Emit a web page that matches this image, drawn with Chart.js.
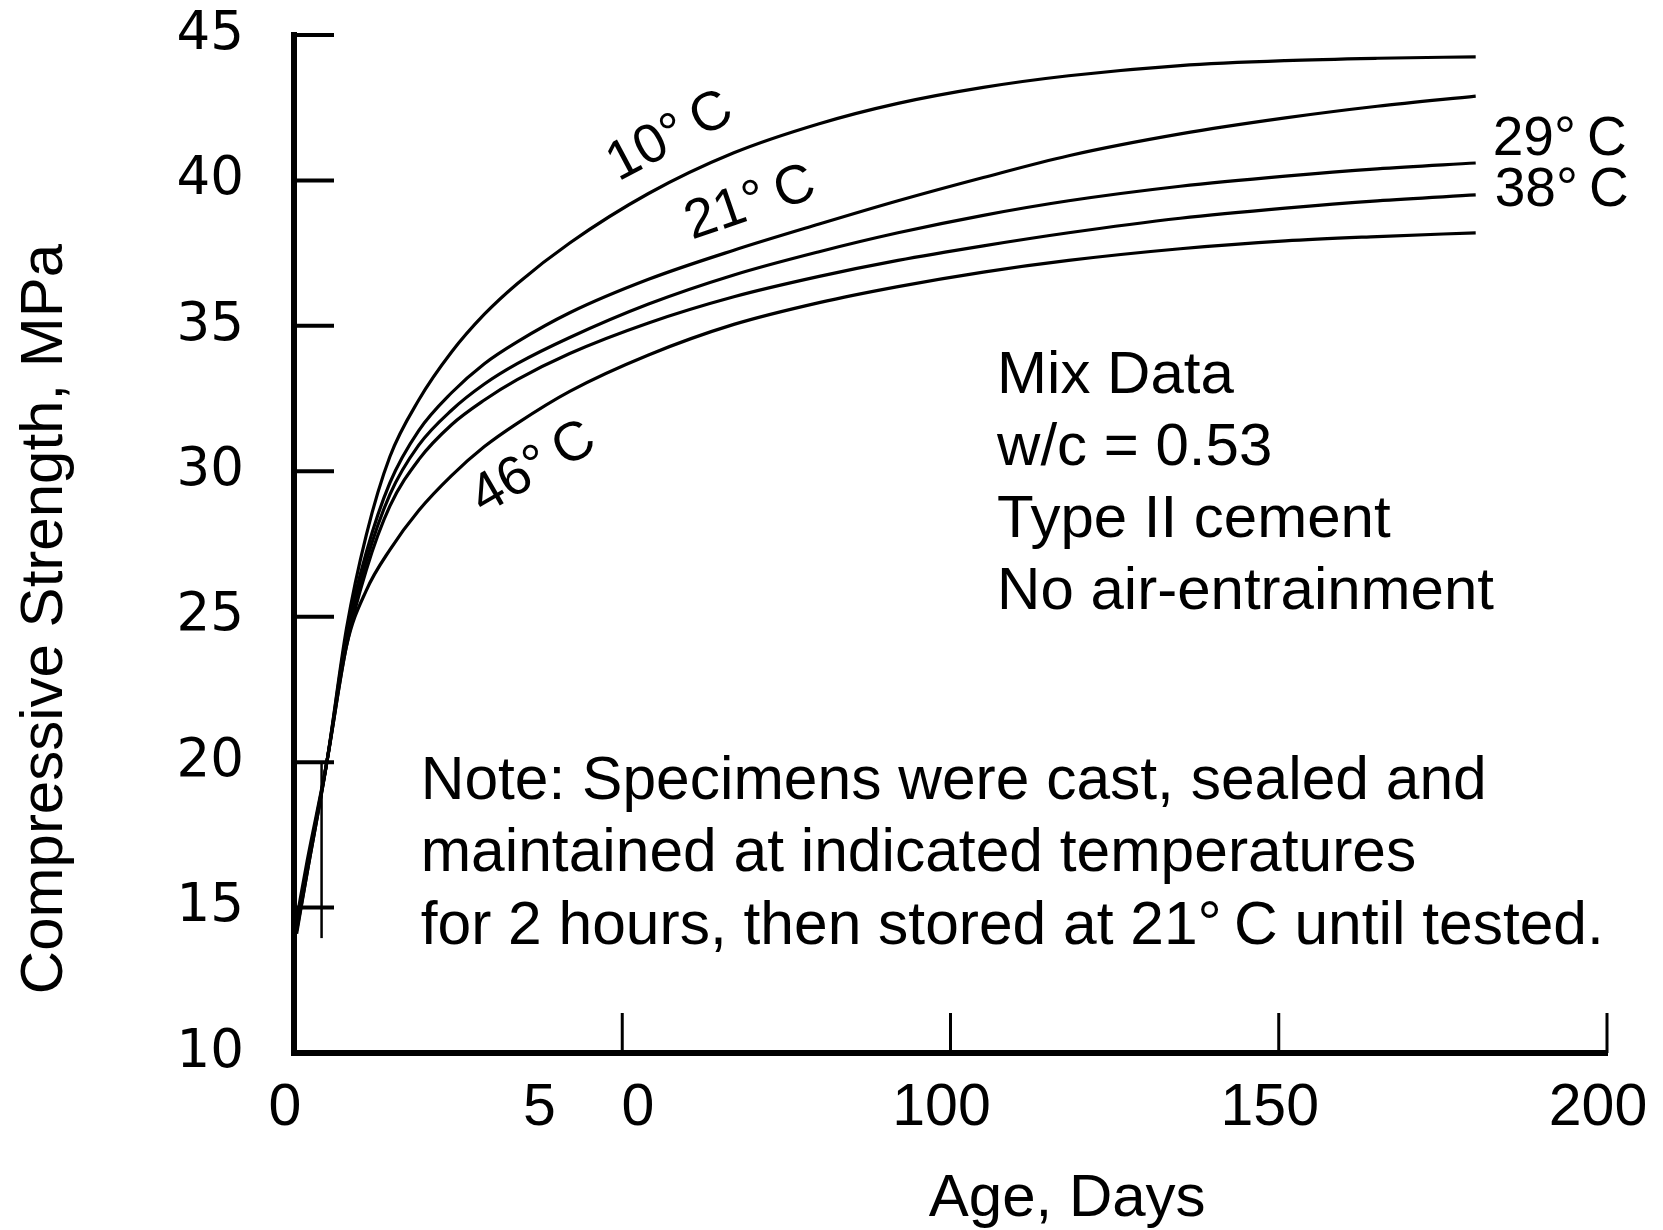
<!DOCTYPE html>
<html>
<head>
<meta charset="utf-8">
<title>Compressive Strength vs Age</title>
<script src="https://cdn.jsdelivr.net/npm/chart.js@4.4.0/dist/chart.umd.min.js"></script>
<style>
  html, body { margin: 0; padding: 0; background: #fff; }
  #wrap { width: 1663px; height: 1230px; }
</style>
</head>
<body>
<div id="wrap"><canvas id="strengthChart" width="1663" height="1230"></canvas></div>
<script>
// values (age in days, strength in MPa)
const ageDays = [0.4, 2, 5, 8, 11, 14.6, 19, 24, 29, 34, 42, 54, 67, 80, 92, 105, 118, 135, 151, 165, 180];
const strength10C = [14.1, 16.2, 20.0, 24.6, 27.8, 30.5, 32.45, 34.1, 35.4, 36.45, 37.85, 39.55, 40.95, 41.95, 42.65, 43.2, 43.6, 43.95, 44.12, 44.2, 44.25];
const strength21C = [14.2, 16.2, 20.0, 24.4, 27.2, 29.6, 31.4, 32.7, 33.7, 34.45, 35.45, 36.6, 37.6, 38.5, 39.3, 40.1, 40.85, 41.6, 42.15, 42.55, 42.9];
const strength29C = [14.3, 16.3, 20.0, 24.2, 26.9, 29.2, 30.9, 32.1, 33.0, 33.7, 34.6, 35.75, 36.75, 37.55, 38.2, 38.8, 39.3, 39.8, 40.15, 40.4, 40.6];
const strength38C = [14.4, 16.4, 20.0, 24.0, 26.6, 28.8, 30.4, 31.6, 32.45, 33.15, 34.05, 35.1, 36.0, 36.7, 37.25, 37.75, 38.2, 38.7, 39.05, 39.3, 39.5];
const strength46C = [14.6, 16.6, 20.0, 24.0, 25.9, 27.3, 28.65, 29.85, 30.85, 31.65, 32.75, 34.0, 35.05, 35.8, 36.35, 36.85, 37.25, 37.65, 37.92, 38.07, 38.2];
const seriesNames = ['10\u00B0\u2009C', '21\u00B0\u2009C', '29\u00B0\u2009C', '38\u00B0\u2009C', '46\u00B0\u2009C'];

// short bracket line near the origin
const bracketDays = [4.2, 4.2];
const bracketStrength = [13.95, 20.0];

const xTickValues = [0, 50, 100, 150, 200];
const xTickLabels = ['0', '5\u00A0\u00A0\u00A0\u00A00\u00A0\u00A0\u00A0', '100', '150', '200'];
const yTickValues = [10, 15, 20, 25, 30, 35, 40, 45];

const mixDataLines = ['Mix Data', 'w/c = 0.53', 'Type II cement', 'No air-entrainment'];
const noteLines = [
    'Note: Specimens were cast, sealed and',
    'maintained at indicated temperatures',
    'for 2 hours, then stored at 21\u00B0\u2009C until tested.'
];

// where the texts sit, in axis units
const curveLabelSpots = [
    { x: 57.3, y: 41.5, rot: -28, align: 'center' },
    { x: 69.5, y: 39.2, rot: -19, align: 'center' },
    { x: 182.6, y: 41.39, rot: 0, align: 'left' },
    { x: 182.9, y: 39.64, rot: 0, align: 'left' },
    { x: 36.5, y: 30.1, rot: -30, align: 'center' }
];
const mixSpot = { x: 107.1, y: 33.26, step: 72 };
const noteSpot = { x: 19.3, y: 19.32, step: 72.5 };

const sans = "'Liberation Sans', Arial, sans-serif";

function toPoints(xs, ys) {
    return xs.map((x, i) => ({ x: x, y: ys[i] }));
}

// inward tick marks + text on the plot
const plotExtras = {
    id: 'plotExtras',
    afterDraw(chart) {
        const ctx = chart.ctx;
        const xs = chart.scales.x;
        const ys = chart.scales.y;
        const area = chart.chartArea;

        ctx.save();
        ctx.strokeStyle = '#000';
        ctx.lineCap = 'butt';

        ctx.lineWidth = 4;
        yTickValues.forEach(v => {
            if (v === ys.min) return;
            const py = ys.getPixelForValue(v);
            ctx.beginPath();
            ctx.moveTo(area.left, py);
            ctx.lineTo(area.left + 40, py);
            ctx.stroke();
        });

        ctx.lineWidth = 3;
        xTickValues.forEach(v => {
            if (v === xs.min) return;
            const px = xs.getPixelForValue(v);
            ctx.beginPath();
            ctx.moveTo(px, area.bottom);
            ctx.lineTo(px, area.bottom - 40);
            ctx.stroke();
        });

        ctx.fillStyle = '#000';
        ctx.textBaseline = 'middle';

        ctx.font = '55px ' + sans;
        seriesNames.forEach((name, i) => {
            const spot = curveLabelSpots[i];
            ctx.save();
            ctx.translate(xs.getPixelForValue(spot.x), ys.getPixelForValue(spot.y));
            ctx.rotate(spot.rot * Math.PI / 180);
            ctx.textAlign = spot.align;
            ctx.fillText(name, 0, 0);
            ctx.restore();
        });

        ctx.textAlign = 'left';
        ctx.font = '60px ' + sans;
        mixDataLines.forEach((line, i) => {
            ctx.fillText(line, xs.getPixelForValue(mixSpot.x), ys.getPixelForValue(mixSpot.y) + i * mixSpot.step);
        });

        ctx.font = '60.5px ' + sans;
        noteLines.forEach((line, i) => {
            ctx.fillText(line, xs.getPixelForValue(noteSpot.x), ys.getPixelForValue(noteSpot.y) + i * noteSpot.step);
        });

        ctx.restore();
    }
};

const curveStyle = {
    borderColor: '#000',
    borderWidth: 3.2,
    pointRadius: 0,
    fill: false,
    cubicInterpolationMode: 'monotone'
};

const ctx = document.getElementById('strengthChart').getContext('2d');
new Chart(ctx, {
    type: 'line',
    data: {
        datasets: [
            { label: seriesNames[0], data: toPoints(ageDays, strength10C), ...curveStyle },
            { label: seriesNames[1], data: toPoints(ageDays, strength21C), ...curveStyle },
            { label: seriesNames[2], data: toPoints(ageDays, strength29C), ...curveStyle },
            { label: seriesNames[3], data: toPoints(ageDays, strength38C), ...curveStyle },
            { label: seriesNames[4], data: toPoints(ageDays, strength46C), ...curveStyle },
            { label: 'bracket', data: toPoints(bracketDays, bracketStrength), borderColor: '#000', borderWidth: 2.5, pointRadius: 0, fill: false }
        ]
    },
    options: {
        responsive: false,
        animation: false,
        devicePixelRatio: 1,
        layout: { padding: { top: 35, right: 56, left: 0, bottom: 0 } },
        plugins: {
            legend: { display: false },
            tooltip: { enabled: false }
        },
        scales: {
            x: {
                type: 'linear',
                min: 0,
                max: 200,
                afterFit: (scale) => {
                    scale.height = 177;
                    scale.paddingLeft = 0;
                    scale.paddingRight = 0;
                },
                afterBuildTicks: (scale) => { scale.ticks = xTickValues.map(v => ({ value: v })); },
                grid: { display: false, drawTicks: false },
                border: { display: true, color: '#000', width: 6 },
                ticks: {
                    padding: 20,
                    labelOffset: -9,
                    color: '#000',
                    maxRotation: 0,
                    autoSkip: false,
                    font: { family: sans, size: 59 },
                    callback: (value) => xTickLabels[xTickValues.indexOf(value)]
                },
                title: {
                    display: true,
                    text: '\u00A0'.repeat(14) + 'Age, Days',
                    color: '#000',
                    font: { family: sans, size: 60, lineHeight: 1 },
                    padding: { top: 0, bottom: 1 }
                }
            },
            y: {
                type: 'linear',
                min: 10,
                max: 45,
                afterFit: (scale) => {
                    scale.width = 294;
                    scale.paddingTop = 0;
                    scale.paddingBottom = 0;
                },
                afterBuildTicks: (scale) => { scale.ticks = yTickValues.map(v => ({ value: v })); },
                grid: { display: false, drawTicks: false },
                border: { display: true, color: '#000', width: 6 },
                ticks: {
                    padding: 50,
                    color: '#000',
                    autoSkip: false,
                    font: { family: "'DejaVu Sans', sans-serif", size: 53 }
                },
                title: {
                    display: true,
                    text: 'Compressive Strength, MPa' + '\u00A0'.repeat(9),
                    color: '#000',
                    font: { family: sans, size: 60, lineHeight: 1 },
                    padding: { top: 15, bottom: 0 }
                }
            }
        }
    },
    plugins: [plotExtras]
});
</script>
</body>
</html>
